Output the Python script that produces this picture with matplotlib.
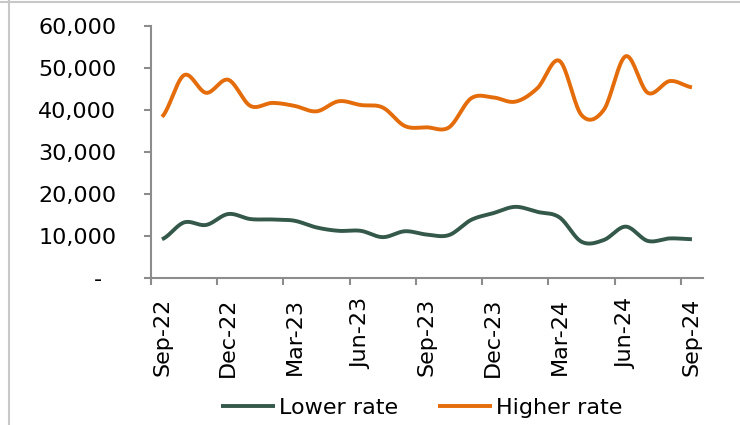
import numpy as np
import matplotlib
matplotlib.use('Agg')
import matplotlib.pyplot as plt
from matplotlib.lines import Line2D
from matplotlib.ticker import FuncFormatter, FixedLocator

# monthly data, Sep-22 .. Sep-24
months = ['Sep-22', 'Oct-22', 'Nov-22', 'Dec-22', 'Jan-23', 'Feb-23', 'Mar-23',
          'Apr-23', 'May-23', 'Jun-23', 'Jul-23', 'Aug-23', 'Sep-23', 'Oct-23',
          'Nov-23', 'Dec-23', 'Jan-24', 'Feb-24', 'Mar-24', 'Apr-24', 'May-24',
          'Jun-24', 'Jul-24', 'Aug-24', 'Sep-24']
lower_rate = [9300, 13300, 12700, 15300, 14100, 14000, 13700, 12100, 11300, 11300,
              9800, 11200, 10400, 10300, 13900, 15500, 17000, 15800, 14500, 8700,
              9100, 12300, 8900, 9500, 9300]
higher_rate = [38400, 48300, 44100, 47200, 41000, 41700, 41000, 39700, 42100, 41200,
               40600, 36200, 35900, 35900, 42800, 43000, 42000, 45200, 51700, 38800,
               40000, 52800, 44100, 46900, 45400]
series_names = ['Lower rate', 'Higher rate']
series_colors = ['#34594A', '#E46C0A']


def smooth(y, n=20):
    # excel style smoothed line (catmull-rom through the points)
    y = np.asarray(y, dtype=float)
    yp = np.concatenate([[y[0]], y, [y[-1]]])
    xs, ys = [], []
    for i in range(len(y) - 1):
        p0, p1, p2, p3 = yp[i], yp[i + 1], yp[i + 2], yp[i + 3]
        m1 = (p2 - p0) / 2
        m2 = (p3 - p1) / 2
        t = np.linspace(0, 1, n, endpoint=False)
        h00 = 2 * t**3 - 3 * t**2 + 1
        h10 = t**3 - 2 * t**2 + t
        h01 = -2 * t**3 + 3 * t**2
        h11 = t**3 - t**2
        xs.append(i + t)
        ys.append(h00 * p1 + h10 * m1 + h01 * p2 + h11 * m2)
    xs.append([len(y) - 1])
    ys.append([y[-1]])
    return np.concatenate(xs), np.concatenate(ys)


plt.rcParams['font.family'] = 'DejaVu Sans'
fig = plt.figure(figsize=(7.4, 4.25), dpi=100)
ax = fig.add_axes([0.204, 0.345, 0.746, 0.594])

for vals, name, col in zip([lower_rate, higher_rate], series_names, series_colors):
    sx, sy = smooth(vals)
    ax.plot(sx, sy, color=col, lw=2.8, label=name, solid_capstyle='butt')

ax.set_xlim(-0.5, len(months) - 0.5)
ax.set_ylim(0, 60000)
ax.set_yticks(np.arange(0, 60001, 10000))
ax.yaxis.set_major_formatter(FuncFormatter(lambda v, p: '-  ' if v == 0 else f'{int(v):,}'))

label_pos = list(range(0, len(months), 3))
ax.xaxis.set_major_locator(FixedLocator(label_pos))
ax.set_xticklabels([months[i] for i in label_pos], rotation=90)
ax.xaxis.set_minor_locator(FixedLocator([i - 0.5 for i in label_pos if i - 0.5 < len(months) - 1]))

gray = '#8C8C8C'
for s in ['top', 'right']:
    ax.spines[s].set_visible(False)
for s in ['left', 'bottom']:
    ax.spines[s].set_color(gray)
    ax.spines[s].set_linewidth(1.5)
ax.tick_params(axis='y', length=5, width=1.5, color=gray, pad=20, labelsize=16)
ax.tick_params(axis='x', which='major', length=0, pad=14, labelsize=16)
ax.tick_params(axis='x', which='minor', length=5, width=1.5, color=gray)

fig.legend(loc='center', bbox_to_anchor=(0.57, 0.04), ncol=2, frameon=False,
           fontsize=16, handlelength=2.4, handletextpad=0.2, columnspacing=1.8)

# chart area border (top and left edge visible)
fig.add_artist(Line2D([0.012, 0.012], [0, 1], color='#C8C8C8', lw=1.5))
fig.add_artist(Line2D([0, 1], [0.995, 0.995], color='#C8C8C8', lw=1.5))

plt.savefig('out.png', dpi=100)
